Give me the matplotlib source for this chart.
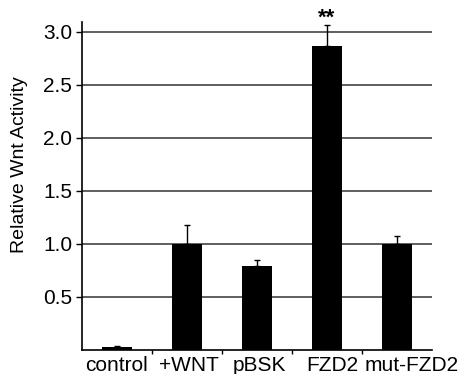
import matplotlib
matplotlib.use("Agg")
import matplotlib.pyplot as plt
import matplotlib.transforms as mtransforms
import numpy as np

plt.rcParams['font.family'] = ['Liberation Sans', 'DejaVu Sans']

labels = ["control", "+WNT", "pBSK", "FZD2", "mut-FZD2"]
values = [0.03, 1.0, 0.79, 2.86, 1.0]
errors = [0.01, 0.18, 0.06, 0.20, 0.07]
yticks = [0.5, 1.0, 1.5, 2.0, 2.5, 3.0]

fig = plt.figure(figsize=(4.63, 3.74), dpi=100)
ax = fig.add_axes([0.177, 0.064, 0.756, 0.877])

x = np.arange(len(labels))
ax.set_axisbelow(True)
for t in yticks:
    ax.axhline(t, color="#333333", lw=1.1, zorder=0)
ax.bar(x, values, width=0.43, color="black", zorder=2)
ax.errorbar(x, values, yerr=[np.zeros(len(errors)), errors], fmt="none",
            ecolor="black", elinewidth=1, capsize=2.5, capthick=1, zorder=3)

ax.text(x[3], values[3] + errors[3] + 0.07, "**", ha="center", va="center",
        fontsize=16, fontweight="bold")

ax.set_xlim(-0.5, 4.5)
ax.set_ylim(0, 3.09)
ax.set_yticks(yticks)
ax.set_yticklabels(["%.1f" % t for t in yticks], fontsize=15)
ax.set_xticks(x)
ax.set_xticklabels(labels, fontsize=15)
ax.tick_params(axis="x", length=0, pad=4)
ax.set_xticks(np.arange(0.5, 4.5, 1), minor=True)
ax.tick_params(axis="x", which="minor", length=3, width=1)
ax.tick_params(axis="y", length=4, width=1, pad=3)
ax.set_ylabel("Relative Wnt Activity", fontsize=14)
ax.yaxis.set_label_coords(-0.155, 0.564)

# nudge the crowded labels on the right like the original
shifts = [0, 2, 2, 5, 15]
for lab, dx in zip(ax.get_xticklabels(), shifts):
    off = mtransforms.ScaledTranslation(dx / 100, 0, fig.dpi_scale_trans)
    lab.set_transform(lab.get_transform() + off)

for s in ["top", "right"]:
    ax.spines[s].set_visible(False)
ax.spines["left"].set_linewidth(1.2)
ax.spines["bottom"].set_linewidth(1.2)

fig.savefig("out.png", dpi=100)
